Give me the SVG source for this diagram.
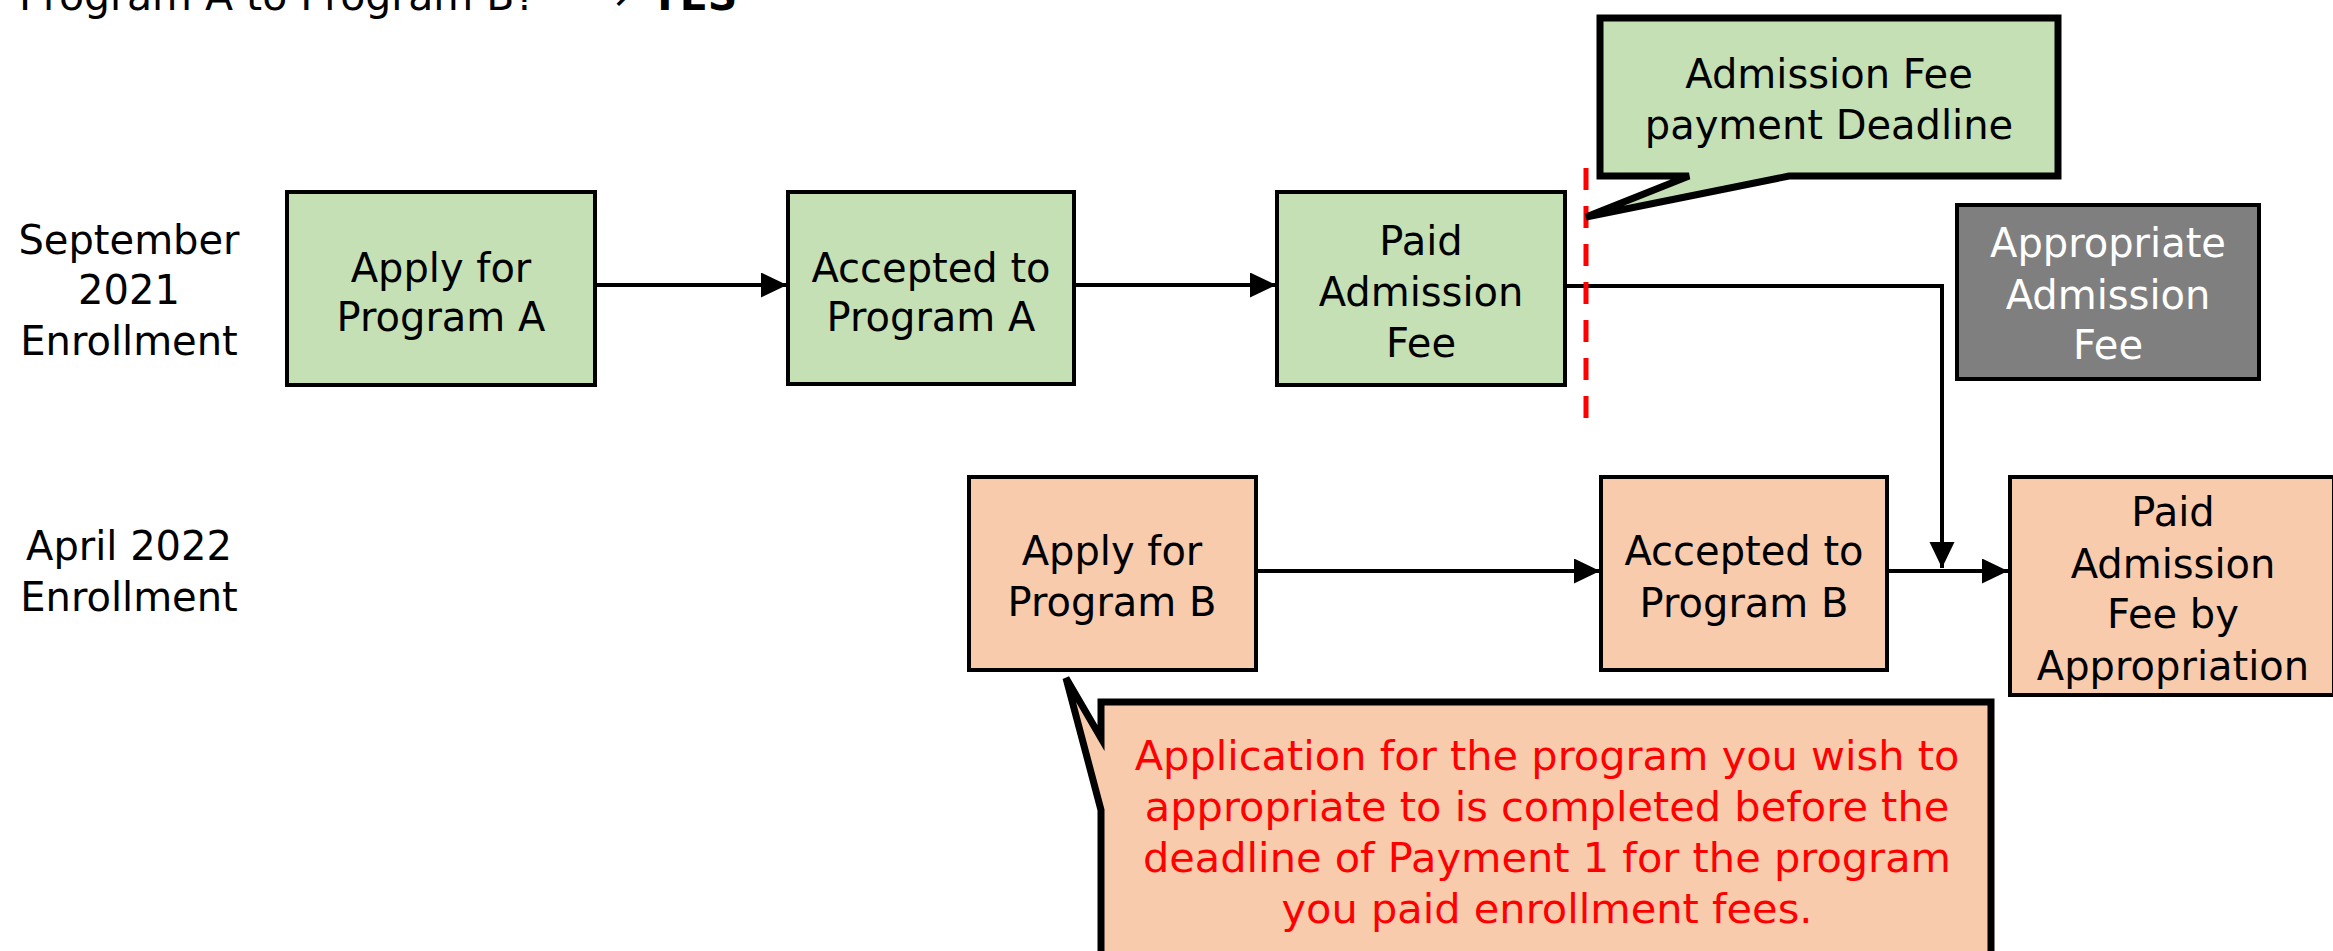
<svg xmlns="http://www.w3.org/2000/svg" width="2333" height="951" viewBox="0 0 2333 951">
<defs>
<style>
.t{font-family:"DejaVu Sans","Verdana",sans-serif;font-size:40px;fill:#000;text-anchor:middle}
.w{fill:#fff}
.r{fill:#ff0000;font-size:41.5px}
.g{fill:#c5e0b4;stroke:#000;stroke-width:4}
.p{fill:#f8cbad;stroke:#000;stroke-width:4}
.k{fill:#7f7f7f;stroke:#000;stroke-width:4}
.c{stroke:#000;stroke-width:4;fill:none}
</style>
<marker id="ah" markerUnits="userSpaceOnUse" markerWidth="27" markerHeight="26" refX="26" refY="12.5" orient="auto">
<path d="M0,0 L26,12.5 L0,25 z" fill="#000"/>
</marker>
</defs>
<rect width="2333" height="951" fill="#fff"/>

<g id="title">
<text class="t" x="19" y="10" style="text-anchor:start;font-size:41px">Program A to Program B?</text>
<text class="t" x="612" y="10" style="text-anchor:middle;font-size:41px">→</text>
<text class="t" x="650" y="10" style="text-anchor:start;font-size:41px;font-weight:bold">YES</text>
</g>

<g id="label-sep2021">
<text class="t" x="129" y="254">September</text>
<text class="t" x="129" y="304">2021</text>
<text class="t" x="129" y="355">Enrollment</text>
</g>
<g id="label-apr2022">
<text class="t" x="129" y="560">April 2022</text>
<text class="t" x="129" y="611">Enrollment</text>
</g>

<g id="connectors">
<line class="c" x1="595" y1="285" x2="787" y2="285" marker-end="url(#ah)"/>
<line class="c" x1="1074" y1="285" x2="1276" y2="285" marker-end="url(#ah)"/>
<polyline class="c" points="1565,286 1942,286 1942,568" marker-end="url(#ah)"/>
<line class="c" x1="1256" y1="571" x2="1600" y2="571" marker-end="url(#ah)"/>
<line class="c" x1="1887" y1="571" x2="2008" y2="571" marker-end="url(#ah)"/>
</g>

<g id="applyA">
<rect class="g" x="287" y="192" width="308" height="193"/>
<text class="t" x="441" y="282">Apply for</text>
<text class="t" x="441" y="331">Program A</text>
</g>
<g id="acceptedA">
<rect class="g" x="788" y="192" width="286" height="192"/>
<text class="t" x="931" y="282">Accepted to</text>
<text class="t" x="931" y="331">Program A</text>
</g>
<g id="paidA">
<rect class="g" x="1277" y="192" width="288" height="193"/>
<text class="t" x="1421" y="255">Paid</text>
<text class="t" x="1421" y="306">Admission</text>
<text class="t" x="1421" y="357">Fee</text>
</g>

<g id="deadline-line">
<line x1="1586" y1="168" x2="1586" y2="420" stroke="#ff0000" stroke-width="5" stroke-dasharray="22 16"/>
</g>

<g id="deadline-callout">
<polygon points="1600,18 2058,18 2058,176 1789,176 1586,217 1689,176 1600,176" fill="#c5e0b4" stroke="#000" stroke-width="7"/>
<text class="t" x="1829" y="88">Admission Fee</text>
<text class="t" x="1829" y="139">payment Deadline</text>
</g>

<g id="appropriateFee">
<rect class="k" x="1957" y="205" width="302" height="174"/>
<text class="t w" x="2108" y="257">Appropriate</text>
<text class="t w" x="2108" y="309">Admission</text>
<text class="t w" x="2108" y="359">Fee</text>
</g>

<g id="applyB">
<rect class="p" x="969" y="477" width="287" height="193"/>
<text class="t" x="1112" y="565">Apply for</text>
<text class="t" x="1112" y="616">Program B</text>
</g>
<g id="acceptedB">
<rect class="p" x="1601" y="477" width="286" height="193"/>
<text class="t" x="1744" y="565">Accepted to</text>
<text class="t" x="1744" y="617">Program B</text>
</g>
<g id="paidB">
<rect class="p" x="2010" y="477" width="324" height="218"/>
<text class="t" x="2173" y="526">Paid</text>
<text class="t" x="2173" y="578">Admission</text>
<text class="t" x="2173" y="628">Fee by</text>
<text class="t" x="2173" y="680">Appropriation</text>
</g>

<g id="note-callout">
<polygon points="1101,702 1991,702 1991,980 1101,980 1101,810 1066,678 1101,738" fill="#f8cbad" stroke="#000" stroke-width="7"/>
<text class="t r" x="1547" y="770">Application for the program you wish to</text>
<text class="t r" x="1547" y="821">appropriate to is completed before the</text>
<text class="t r" x="1547" y="872">deadline of Payment 1 for the program</text>
<text class="t r" x="1547" y="923">you paid enrollment fees.</text>
</g>
</svg>
